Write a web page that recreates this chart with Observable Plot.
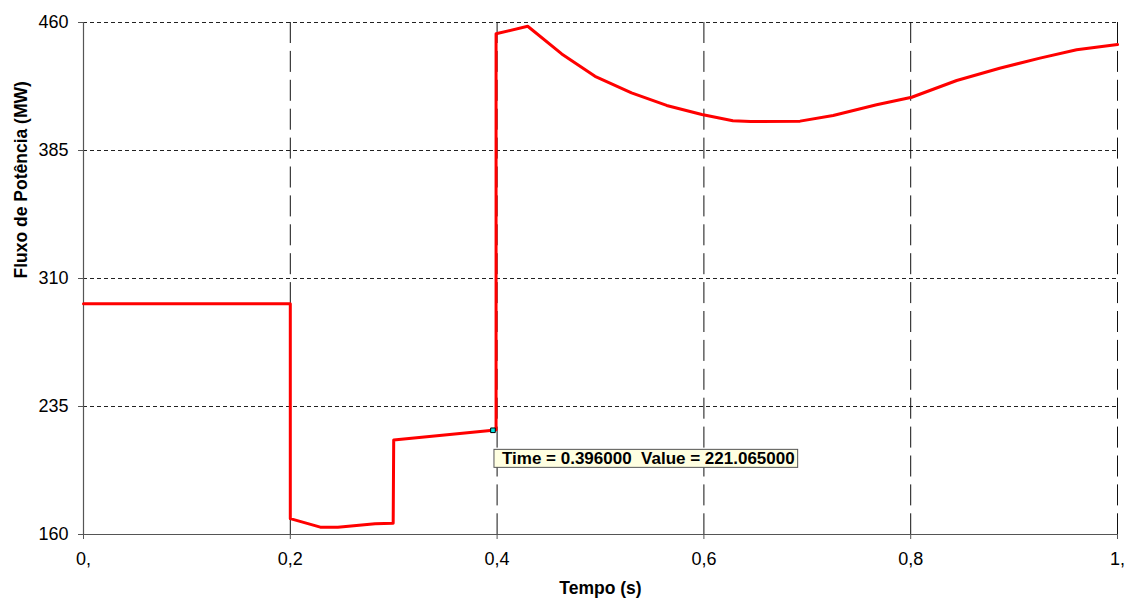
<!DOCTYPE html>
<html>
<head>
<meta charset="utf-8">
<script src="https://cdn.jsdelivr.net/npm/d3@7"></script>
<script src="https://cdn.jsdelivr.net/npm/@observablehq/plot@0.6"></script>
<style>
  html, body { margin: 0; padding: 0; background: #fff; }
  svg { display: block; }
</style>
</head>
<body>
<script>
// ---- data ----
const time = [0, 0.2, 0.2, 0.229, 0.246, 0.264, 0.282, 0.2995, 0.3, 0.396, 0.399, 0.399, 0.4296, 0.4625, 0.4947, 0.530, 0.564, 0.598, 0.628, 0.645, 0.693, 0.725, 0.767, 0.801, 0.8445, 0.886, 0.925, 0.9605, 1.0];
const power = [295.2, 295.2, 169.3, 164.3, 164.3, 165.3, 166.3, 166.6, 215.4, 221.065, 221.4, 453.4, 457.8, 441.6, 428.5, 418.8, 411.4, 406.1, 402.4, 402.0, 402.2, 405.5, 411.8, 416.2, 426.0, 433.2, 439.1, 444.0, 447.1];
const xTicks = [0, 0.2, 0.4, 0.6, 0.8, 1];
const xTickLabels = ["0,", "0,2", "0,4", "0,6", "0,8", "1,"];
const yTicks = [160, 235, 310, 385, 460];
const hGrid = [235, 310, 385, 460];
const vGrid = [0.2, 0.4, 0.6, 0.8, 1];
const tipPoint = [{t: 0.396, v: 221.065}];
const tipText = "Time = 0.396000  Value = 221.065000";
const xLabel = "Tempo (s)";
const yLabel = "Fluxo de Potência (MW)";

const data = time.map((t, i) => ({t, v: power[i]}));

const chart = Plot.plot({
  width: 1130,
  height: 598,
  marginLeft: 83,
  marginRight: 13,
  marginTop: 22,
  marginBottom: 64,
  style: {fontFamily: "'Liberation Sans', Arial, sans-serif", background: "#fff", color: "#000"},
  x: {domain: [0, 1]},
  y: {domain: [160, 460]},
  marks: [
    Plot.ruleY(hGrid, {stroke: "#222", strokeWidth: 1, strokeDasharray: "4,3"}),
    Plot.ruleX(vGrid, {stroke: "#111", strokeWidth: 1, strokeDasharray: "21,7.9"}),
    Plot.ruleX([0], {stroke: "#555", strokeWidth: 1.2}),
    Plot.ruleY([160], {stroke: "#555", strokeWidth: 1.2}),
    Plot.axisX({ticks: xTicks, tickFormat: (d, i) => xTickLabels[i], tickSize: 5, tickPadding: 13, fontSize: 18, label: null, stroke: "#555"}),
    Plot.axisY({ticks: yTicks, tickSize: 5, tickPadding: 10, fontSize: 18, label: null, stroke: "#555"}),
    Plot.line(data, {x: "t", y: "v", stroke: "#ff0000", strokeWidth: 3, curve: "linear"}),
    Plot.dot(tipPoint, {x: "t", y: "v", symbol: "square", r: 2.6, fill: "#00e5e5", stroke: "#000", strokeWidth: 1}),
    Plot.text(tipPoint, {x: "t", y: "v", text: () => tipText, textAnchor: "start", lineAnchor: "top", dx: 9, dy: 22, fontSize: 17, fontWeight: "bold", fill: "#000"}),
    Plot.text([xLabel], {frameAnchor: "bottom", text: d => d, lineAnchor: "top", dy: 47, fontSize: 17.5, fontWeight: "bold"}),
    Plot.text([yLabel], {frameAnchor: "left", text: d => d, rotate: -90, dx: -62, fontSize: 17.5, fontWeight: "bold"})
  ]
});
document.body.append(chart);

// tooltip background box sized from the rendered text
for (const el of chart.querySelectorAll("text")) {
  if (el.textContent === tipText) {
    const b = el.getBBox();
    const r = document.createElementNS("http://www.w3.org/2000/svg", "rect");
    r.setAttribute("x", b.x - 8);
    r.setAttribute("y", b.y);
    r.setAttribute("width", b.width + 11);
    r.setAttribute("height", b.height - 1);
    r.setAttribute("fill", "#ffffe1");
    r.setAttribute("stroke", "#555");
    r.setAttribute("stroke-width", "1");
    const tr = el.getAttribute("transform");
    if (tr) r.setAttribute("transform", tr);
    el.parentNode.insertBefore(r, el);
  }
}
</script>
</body>
</html>
